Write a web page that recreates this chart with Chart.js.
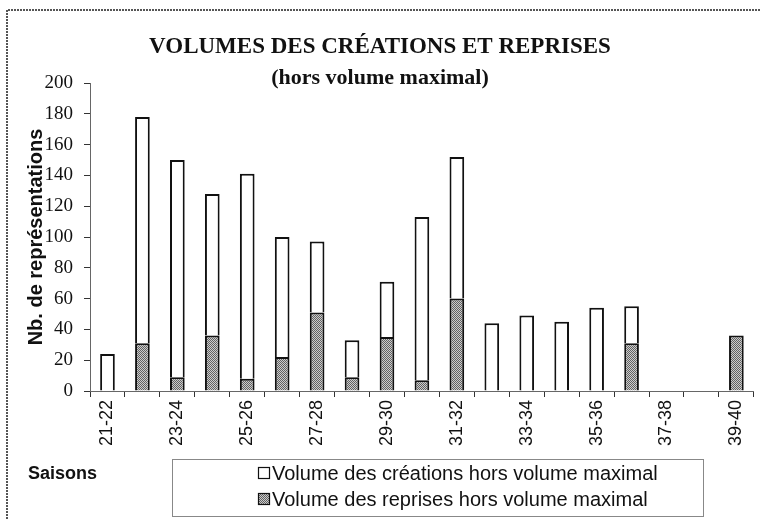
<!DOCTYPE html>
<html lang="fr">
<head>
<meta charset="utf-8">
<title>Volumes des créations et reprises</title>
<script src="https://cdn.jsdelivr.net/npm/chart.js@4"></script>
<style>
  html, body { margin: 0; padding: 0; background: #fff; }
</style>
</head>
<body>
<canvas id="chart" width="761" height="519"></canvas>
<script>
// Seasons (x axis), only every other one gets a label
const seasons = ['21-22', '22-23', '23-24', '24-25', '25-26', '26-27', '27-28', '28-29', '29-30', '30-31',
                 '31-32', '32-33', '33-34', '34-35', '35-36', '36-37', '37-38', '38-39', '39-40'];
const shownSeasons = ['21-22', '23-24', '25-26', '27-28', '29-30', '31-32', '33-34', '35-36', '37-38', '39-40'];

// Stacked values: reprises at the bottom (grey), créations on top (white)
const reprises  = [0, 31, 9, 36, 8, 22, 51, 9, 35, 7, 60, 0, 0, 0, 0, 31, 0, 0, 36];
const creations = [24, 147, 141, 92, 133, 78, 46, 24, 36, 106, 92, 44, 49, 45, 54, 24, 0, 0, 0];

const yMin = 0, yMax = 200, yStep = 20;

const serif = '"Liberation Serif", "Times New Roman", serif';
const sans = '"Liberation Sans", Arial, sans-serif';

// dithered grey like the printed screen
function greyPattern() {
  const p = document.createElement('canvas');
  p.width = 2; p.height = 2;
  const pc = p.getContext('2d');
  pc.fillStyle = '#cccccc'; pc.fillRect(0, 0, 2, 2);
  pc.fillStyle = '#626262'; pc.fillRect(0, 0, 1, 1); pc.fillRect(1, 1, 1, 1);
  return pc.createPattern(p, 'repeat');
}
const grey = greyPattern();

// frame line at the top and left of the figure
const framePlugin = {
  id: 'frame',
  beforeDraw(chart) {
    const c = chart.ctx;
    c.save();
    c.fillStyle = '#fff';
    c.fillRect(0, 0, chart.width, chart.height);
    c.strokeStyle = '#555';
    c.lineWidth = 2;
    c.setLineDash([2, 1]);
    c.beginPath();
    c.moveTo(7, chart.height);
    c.lineTo(7, 10);
    c.lineTo(chart.width, 10);
    c.stroke();
    c.restore();
  }
};

// "Saisons" label and the boxed legend under the axis
const boxLegendPlugin = {
  id: 'boxLegend',
  afterDraw(chart) {
    const c = chart.ctx;
    c.save();
    c.fillStyle = '#111';
    c.textBaseline = 'middle';
    c.font = 'bold 18px ' + sans;
    c.fillText('Saisons', 28, 474);

    c.strokeStyle = '#888';
    c.lineWidth = 1;
    c.strokeRect(172.5, 459.5, 531, 57);

    c.font = '20px ' + sans;
    const items = chart.data.datasets.slice().reverse();
    items.forEach((ds, i) => {
      const y = 473 + i * 26;
      c.fillStyle = ds.backgroundColor;
      c.fillRect(258, y - 6, 12, 12);
      c.strokeStyle = '#111';
      c.lineWidth = 1.2;
      c.strokeRect(258.5, y - 5.5, 11, 11);
      c.fillStyle = '#111';
      c.fillText(ds.label, 272, y + 1);
    });
    c.restore();
  }
};

new Chart(document.getElementById('chart'), {
  type: 'bar',
  data: {
    labels: seasons,
    datasets: [
      {
        label: 'Volume des reprises hors volume maximal',
        data: reprises,
        backgroundColor: grey,
        borderColor: '#111',
        borderWidth: 2,
        barPercentage: 0.42,
        categoryPercentage: 1
      },
      {
        label: 'Volume des créations hors volume maximal',
        data: creations,
        backgroundColor: '#fff',
        borderColor: '#111',
        borderWidth: 2,
        barPercentage: 0.42,
        categoryPercentage: 1
      }
    ]
  },
  options: {
    responsive: false,
    animation: false,
    layout: { padding: { left: 0, right: 1, top: 0, bottom: 72 } },
    plugins: {
      legend: { display: false },
      tooltip: { enabled: false },
      title: {
        display: true,
        text: 'VOLUMES DES CRÉATIONS ET REPRISES',
        color: '#111',
        font: { family: serif, size: 23, weight: 'bold' },
        padding: { top: 33, bottom: 0 }
      },
      subtitle: {
        display: true,
        text: '(hors volume maximal)',
        color: '#111',
        font: { family: serif, size: 22, weight: 'bold' },
        padding: { top: 5, bottom: -9 }
      }
    },
    scales: {
      x: {
        stacked: true,
        border: { color: '#666', width: 1 },
        grid: { drawOnChartArea: false, tickLength: 6, color: '#333', offset: true },
        ticks: {
          autoSkip: false,
          minRotation: 90,
          maxRotation: 90,
          padding: 3,
          color: '#111',
          font: { family: sans, size: 18 },
          callback: (v, i) => shownSeasons.includes(seasons[i]) ? seasons[i] : ''
        },
        afterFit(scale) { scale.height = 56; }
      },
      y: {
        stacked: true,
        min: yMin,
        max: yMax,
        border: { color: '#666', width: 1 },
        grid: { drawOnChartArea: false, tickLength: 6, color: '#333' },
        ticks: {
          stepSize: yStep,
          padding: 11,
          color: '#111',
          font: { family: serif, size: 19 }
        },
        title: {
          display: true,
          text: 'Nb. de représentations',
          color: '#111',
          font: { family: sans, size: 20, weight: 'bold' },
          padding: { top: 24, bottom: 0 }
        },
        afterFit(scale) { scale.width = 90; }
      }
    }
  },
  plugins: [framePlugin, boxLegendPlugin]
});
</script>
</body>
</html>
